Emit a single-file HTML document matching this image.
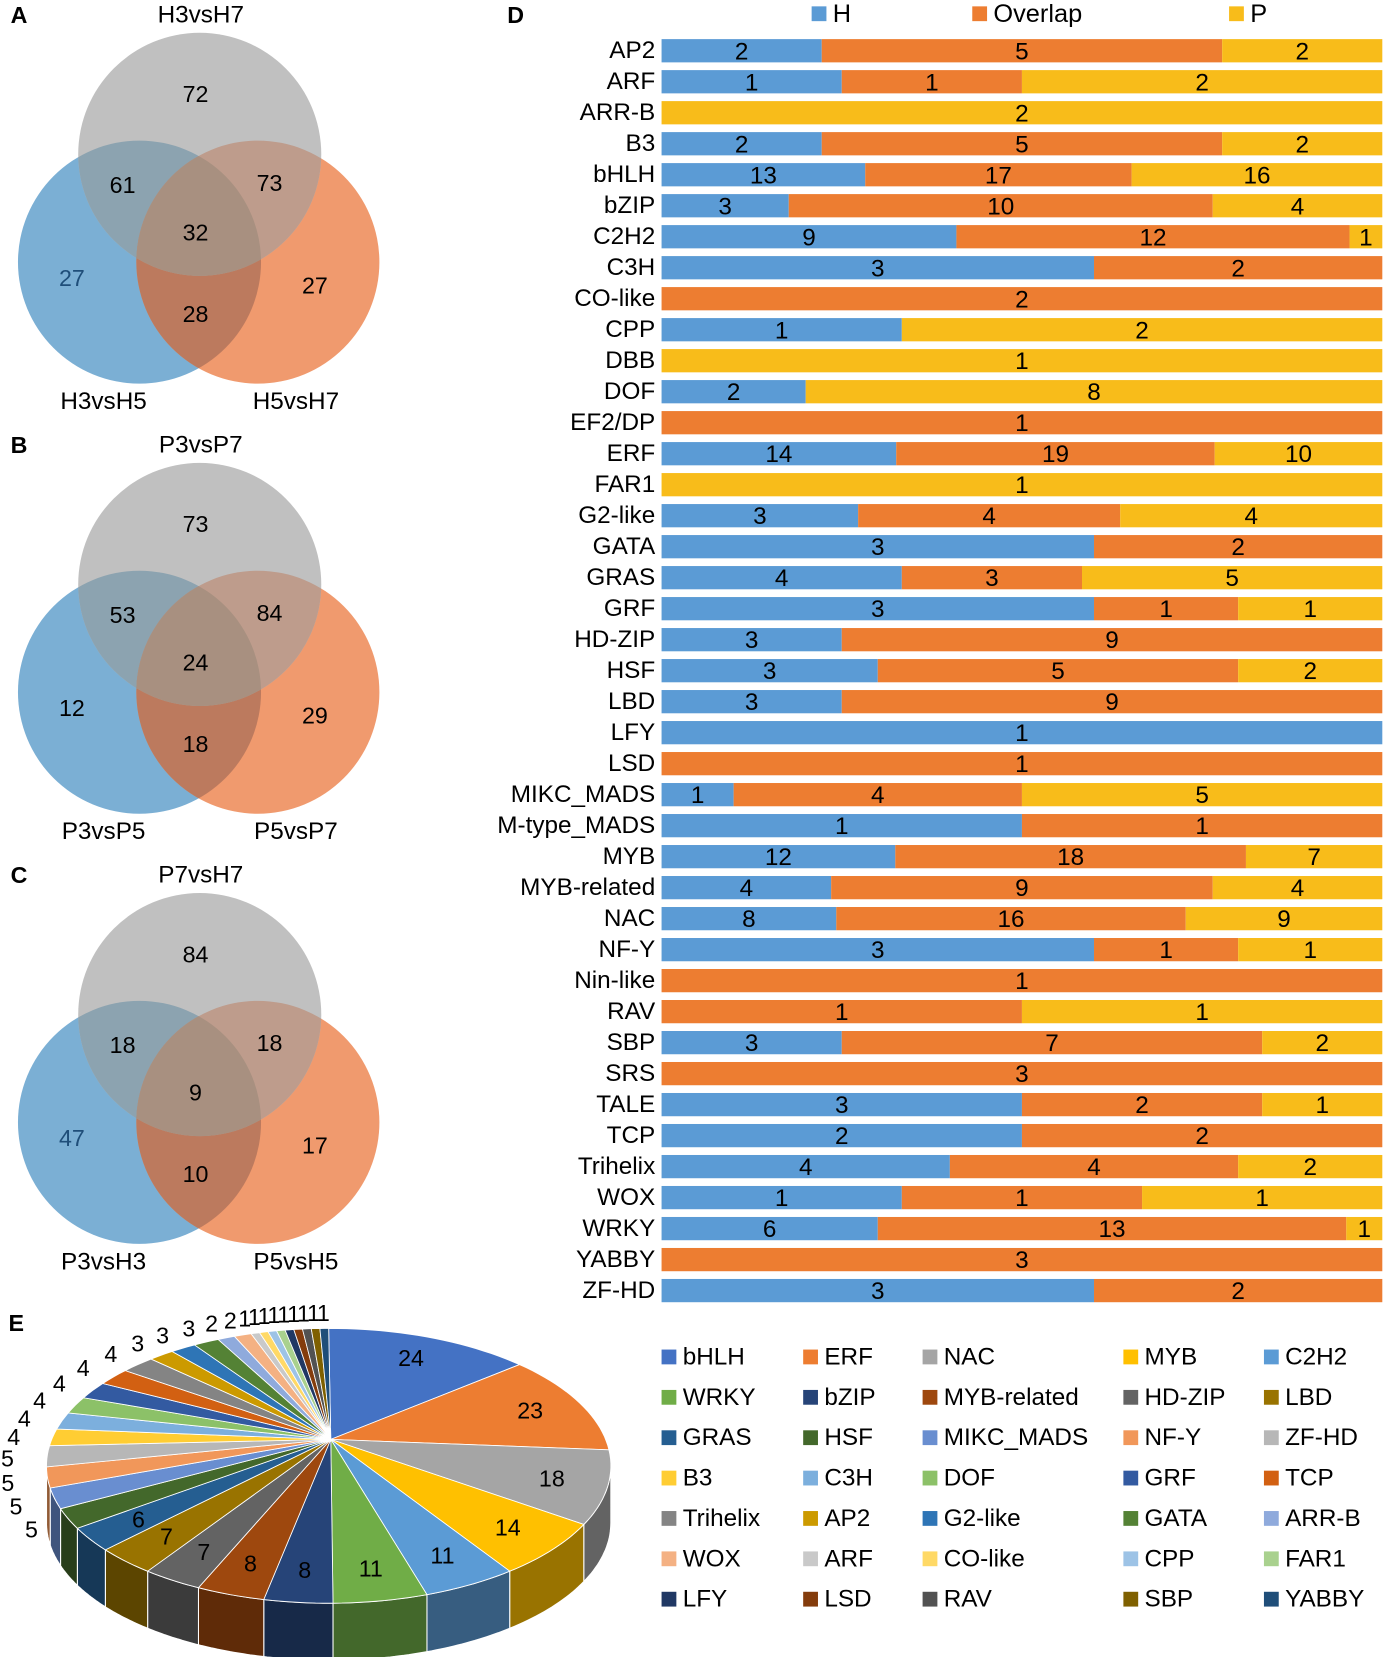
<!DOCTYPE html>
<html><head><meta charset="utf-8">
<style>
html,body{margin:0;padding:0;background:#fff;}
svg{display:block;font-family:"Liberation Sans",Arial,sans-serif;}
</style></head>
<body>
<svg id="fig" width="1384" height="1657" viewBox="0 0 1309.6 1567.9" xmlns="http://www.w3.org/2000/svg">
<defs>
  <clipPath id="cb"><circle cx="132" cy="248" r="115"/></clipPath>
  <clipPath id="co"><circle cx="244" cy="248" r="115"/></clipPath>
  <clipPath id="cg"><circle cx="189" cy="146" r="115"/></clipPath>
</defs>
<g id="venns"></g>
<g id="bars"></g>
<g id="pie"></g>
<g id="pieLegend"></g>
</svg>
<script>
// ---------- Venn data ----------
const vennLetters = ["A","B","C"];
const vennTop = ["H3vsH7","P3vsP7","P7vsH7"];
const vennLeft = ["H3vsH5","P3vsP5","P3vsH3"];
const vennRight = ["H5vsH7","P5vsP7","P5vsH5"];
// order: top-only, top∩left, top∩right, all, left-only, right-only, left∩right
const vennValues = [
  [72,61,73,32,27,27,28],
  [73,53,84,24,12,29,18],
  [84,18,18,9,47,17,10]
];
const vennOffsets = [0,407,814];

// ---------- Bar data ----------
const barCats = ["AP2","ARF","ARR-B","B3","bHLH","bZIP","C2H2","C3H","CO-like","CPP","DBB","DOF","EF2/DP","ERF","FAR1","G2-like","GATA","GRAS","GRF","HD-ZIP","HSF","LBD","LFY","LSD","MIKC_MADS","M-type_MADS","MYB","MYB-related","NAC","NF-Y","Nin-like","RAV","SBP","SRS","TALE","TCP","Trihelix","WOX","WRKY","YABBY","ZF-HD"];
const barH =       [2,1,0,2,13,3,9,3,0,1,0,2,0,14,0,3,3,4,3,3,3,3,1,0,1,1,12,4,8,3,0,0,3,0,3,2,4,1,6,0,3];
const barOverlap = [5,1,0,5,17,10,12,2,2,0,0,0,1,19,0,4,2,3,1,9,5,9,0,1,4,1,18,9,16,1,1,1,7,3,2,2,4,1,13,3,2];
const barP =       [2,2,2,2,16,4,1,0,0,2,1,8,0,10,1,4,0,5,1,0,2,0,0,0,5,0,7,4,9,1,0,1,2,0,1,0,2,1,1,0,0];
const seriesNames = ["H","Overlap","P"];

// ---------- Pie data ----------
const pieCats = ["bHLH","ERF","NAC","MYB","C2H2","WRKY","bZIP","MYB-related","HD-ZIP","LBD","GRAS","HSF","MIKC_MADS","NF-Y","ZF-HD","B3","C3H","DOF","GRF","TCP","Trihelix","AP2","G2-like","GATA","ARR-B","WOX","ARF","CO-like","CPP","FAR1","LFY","LSD","RAV","SBP","YABBY"];
const pieValues = [24,23,18,14,11,11,8,8,7,7,6,5,5,5,5,4,4,4,4,4,4,3,3,3,2,2,1,1,1,1,1,1,1,1,1];
const pieColors = ["#4472C4","#ED7D31","#A5A5A5","#FFC000","#5B9BD5","#70AD47","#264478","#9E480E","#636363","#997300","#255E91","#43682B","#698ED0","#F1975A","#B7B7B7","#FFCD33","#7CAFDD","#8CC168","#335AA1","#D26012","#848484","#CC9A00","#2E75B6","#548235","#8FAADC","#F4B183","#C9C9C9","#FFD966","#9DC3E6","#A9D18E","#203864","#843C0C","#525252","#7F6000","#1F4E79"];

const NS="http://www.w3.org/2000/svg";
function mk(tag, attrs, parent){const e=document.createElementNS(NS,tag);for(const k in attrs)e.setAttribute(k,attrs[k]);parent.appendChild(e);return e;}
function txt(parent,x,y,s,size,anchor,fill,weight){const t=mk("text",{x:x,y:y,"font-size":size,"text-anchor":anchor||"middle","dominant-baseline":"central",fill:fill||"#000"},parent);if(weight)t.setAttribute("font-weight",weight);t.textContent=s;return t;}

// ---------- Venns ----------
const vg=document.getElementById("venns");
const vpos=[[185,89],[116,175],[255,173],[185,220],[68,263],[298,270],[185,297]];
vennLetters.forEach((L,i)=>{
  const dy=vennOffsets[i];
  const g=mk("g",{transform:"translate(0,"+dy+")"},vg);
  
  
  const c1=mk("circle",{cx:132,cy:248,r:115,fill:"#7BAFD4"},g);
  
  
  const c2=mk("circle",{cx:244,cy:248,r:115,fill:"#F09A6E"},g);
  
  
  const c3=mk("circle",{cx:189,cy:146,r:115,fill:"#C0C0C0"},g);
  
  
  const gb=mk("g",{"clip-path":"url(#cb)"},g);
  mk("circle",{cx:189,cy:146,r:115,fill:"#8CA3B0"},gb);
  mk("circle",{cx:244,cy:248,r:115,fill:"#BC7A5E"},gb);
  const gbg=mk("g",{"clip-path":"url(#cg)"},gb);
  mk("circle",{cx:244,cy:248,r:115,fill:"#A89080"},gbg);
  const go=mk("g",{"clip-path":"url(#co)"},g);
  const gog=mk("g",{"clip-path":"url(#cg)"},go);
  mk("rect",{x:0,y:0,width:400,height:400,fill:"#BE9C8C"},gog);
  const gogb=mk("g",{"clip-path":"url(#cb)"},gog);
  mk("rect",{x:0,y:0,width:400,height:400,fill:"#A89080"},gogb);
  vennValues[i].forEach((v,j)=>{
    const t=txt(g,vpos[j][0],vpos[j][1],v,22,"middle",(j===4&&i!==1)?"#1F4E79":"#000");
    
    
  });
  const l=txt(g,10,14,L,22,"start","#000","bold");
  
  
  const a=txt(g,190,14,vennTop[i],23);
  
  
  const b=txt(g,98,380,vennLeft[i],23);
  
  
  const c=txt(g,280,380,vennRight[i],23);
  
  
});

// ---------- Bars ----------
const bg=document.getElementById("bars");
const X0=626,X1=1308,Y0=48,DY=29.33,BH=22;
const barColors=["#5B9BD5","#ED7D31","#F8BC1A"];
function xs(f){return X0+f*(X1-X0);}
function ys(i){return Y0+i*DY;}
const dl=txt(bg,480,14,"D",22,"start","#000","bold");


const legX=[768,920,1163];
seriesNames.forEach((n,k)=>{
  const r=mk("rect",{x:legX[k],y:6,width:14,height:14,fill:barColors[k]},bg);
  
  
  const t=txt(bg,legX[k]+20,13,n,24,"start");
  
  
});
barCats.forEach((c,i)=>{
  const vals=[barH[i],barOverlap[i],barP[i]];
  const tot=vals[0]+vals[1]+vals[2];
  const y=ys(i);
  const lab=txt(bg,620,y,c,23,"end");
  
  
  let acc=0;
  vals.forEach((v,k)=>{
    if(!v)return;
    const xa=xs(acc/tot),xb=xs((acc+v)/tot);
    const r=mk("rect",{x:xa,y:y-BH/2,width:xb-xa,height:BH,fill:barColors[k]},bg);
    
    
    const t=txt(bg,(xa+xb)/2,y+1,v,23);
    
    
    acc+=v;
  });
});

// ---------- Pie ----------
const pg=document.getElementById("pie");
const el=txt(pg,8,1252,"E",22,"start","#000","bold");


const CX=311,CY=1387,RX=267,RY=130,DEP=54,AX=313,AY=1362;
function pt(th,f,dz){f=f||1;dz=dz||0;return [CX+RX*f*Math.sin(th),CY-RY*f*Math.cos(th)+dz];}
function ipt(th,f){const p=pt(th);return [AX+(p[0]-AX)*f,AY+(p[1]-AY)*f];}
function darken(hex,f){const n=parseInt(hex.slice(1),16);const r=Math.round(((n>>16)&255)*f),g=Math.round(((n>>8)&255)*f),b=Math.round((n&255)*f);return "rgb("+r+","+g+","+b+")";}
const total=pieValues.reduce((a,b)=>a+b,0);
let ang=0;
const slices=pieValues.map(v=>{const a=ang;ang+=v/total*2*Math.PI;return [a,ang];});
slices.forEach(([a,b],i)=>{
  const s=Math.max(a,Math.PI/2),e=Math.min(b,1.5*Math.PI);
  if(e<=s)return;
  let d="";const N=20;
  for(let k=0;k<=N;k++){const p=pt(s+(e-s)*k/N);d+=(k?"L":"M")+p[0].toFixed(1)+","+p[1].toFixed(1);}
  for(let k=N;k>=0;k--){const p=pt(s+(e-s)*k/N,1,DEP);d+="L"+p[0].toFixed(1)+","+p[1].toFixed(1);}
  const side=mk("path",{d:d+"Z",fill:darken(pieColors[i],0.6),stroke:"#fff","stroke-width":1},pg);
  
  
});
slices.forEach(([a,b],i)=>{
  const N=Math.max(2,Math.ceil((b-a)*30));
  let d="M"+AX+","+AY;
  for(let k=0;k<=N;k++){const p=pt(a+(b-a)*k/N);d+="L"+p[0].toFixed(1)+","+p[1].toFixed(1);}
  const sl=mk("path",{d:d+"Z",fill:pieColors[i],stroke:"#fff","stroke-width":0.8},pg);
  
  
});
slices.forEach(([a,b],i)=>{
  const m=(a+b)/2,v=pieValues[i];
  const p=v>=6?ipt(m,0.8):ipt(m,1.14);
  const t=txt(pg,p[0],p[1],v,22,"middle");
  
  
});

// ---------- Pie legend ----------
const lg=document.getElementById("pieLegend");
const colX=[626,760,873,1063,1196];
pieCats.forEach((c,i)=>{
  const col=i%5,row=Math.floor(i/5);
  const x=colX[col],y=1284+row*38.2;
  const r=mk("rect",{x:x,y:y-7,width:14,height:14,fill:pieColors[i]},lg);
  
  
  const t=txt(lg,x+20,y,c,23,"start");
  
  
});
</script>
</body></html>
